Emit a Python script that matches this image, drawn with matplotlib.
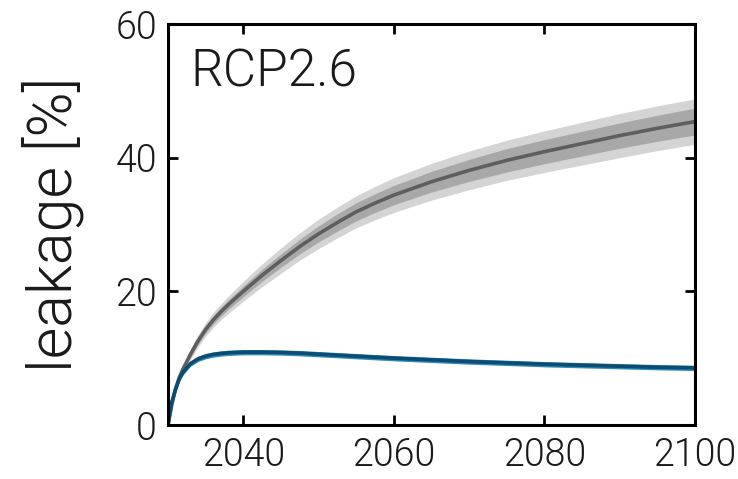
import numpy as np
import matplotlib
matplotlib.use("Agg")
import matplotlib.pyplot as plt

plt.rcParams['font.family'] = ['Roboto', 'DejaVu Sans']
plt.rcParams['font.weight'] = 300
plt.rcParams['axes.labelweight'] = 300

years = [2030, 2030.5, 2031, 2031.5, 2032, 2033, 2034, 2035, 2036, 2037, 2038, 2040,
         2042.5, 2045, 2047.5, 2050, 2052.5, 2055, 2057.5, 2060, 2065, 2070, 2075,
         2080, 2085, 2090, 2095, 2100]

# gray ensemble: median, inner band, outer band
gray_med = [0, 3.0, 5.4, 7.1, 8.4, 10.6, 12.6, 14.3, 15.7, 16.9, 18.0, 20.0,
            22.4, 24.6, 26.7, 28.6, 30.3, 31.9, 33.2, 34.4, 36.4, 38.1, 39.6,
            40.9, 42.1, 43.3, 44.4, 45.4]
gray_in_lo = [0, 2.9, 5.2, 6.85, 8.1, 10.2, 12.1, 13.75, 15.1, 16.25, 17.3, 19.2,
              21.5, 23.6, 25.6, 27.4, 29.0, 30.55, 31.8, 32.95, 34.85, 36.45, 37.85,
              39.1, 40.25, 41.4, 42.45, 43.4]
gray_in_hi = [0, 3.1, 5.6, 7.35, 8.7, 11.0, 13.1, 14.85, 16.3, 17.55, 18.7, 20.8,
              23.3, 25.6, 27.8, 29.8, 31.6, 33.25, 34.6, 35.85, 37.95, 39.75, 41.35,
              42.7, 43.95, 45.2, 46.35, 47.4]
gray_out_lo = [0, 2.8, 5.0, 6.6, 7.8, 9.85, 11.7, 13.3, 14.6, 15.7, 16.7, 18.5,
               20.7, 22.7, 24.65, 26.4, 28.0, 29.5, 30.7, 31.8, 33.65, 35.2, 36.6,
               37.8, 38.9, 40.0, 41.05, 42.0]
gray_out_hi = [0, 3.2, 5.8, 7.6, 9.0, 11.35, 13.5, 15.3, 16.8, 18.1, 19.3, 21.5,
               24.1, 26.5, 28.75, 30.8, 32.6, 34.3, 35.7, 37.0, 39.15, 41.0, 42.6,
               44.0, 45.3, 46.6, 47.75, 48.8]

# blue ensemble
blue_med = [0, 3.4, 5.3, 6.9, 7.9, 9.2, 9.9, 10.3, 10.55, 10.7, 10.8, 10.9,
            10.9, 10.85, 10.75, 10.6, 10.45, 10.3, 10.15, 10.0, 9.75, 9.5, 9.3,
            9.1, 8.95, 8.8, 8.65, 8.55]
blue_lo = [0, 3.0, 4.9, 6.5, 7.5, 8.8, 9.5, 9.9, 10.15, 10.3, 10.4, 10.5,
           10.5, 10.45, 10.35, 10.2, 10.05, 9.9, 9.75, 9.6, 9.35, 9.1, 8.9,
           8.7, 8.55, 8.4, 8.25, 8.15]
blue_hi = [0, 3.8, 5.7, 7.3, 8.3, 9.6, 10.3, 10.7, 10.95, 11.1, 11.2, 11.3,
           11.3, 11.25, 11.15, 11.0, 10.85, 10.7, 10.55, 10.4, 10.15, 9.9, 9.7,
           9.5, 9.35, 9.2, 9.05, 8.95]

fig = plt.figure(figsize=(7.38, 4.79), dpi=100)
ax = fig.add_axes([0.2276, 0.1127, 0.7141, 0.8372])

ax.fill_between(years, gray_out_lo, gray_out_hi, color="#d4d4d4", lw=0)
ax.fill_between(years, gray_in_lo, gray_in_hi, color="#a8a8a8", lw=0)
ax.plot(years, gray_med, color="#5e5e5e", lw=2.6, solid_joinstyle="round")

ax.fill_between(years, blue_lo, blue_hi, color="#2f8cb6", lw=0)
ax.plot(years, blue_med, color="#0b4b74", lw=2.6, solid_joinstyle="round")

ax.set_xlim(2030, 2100)
ax.set_ylim(0, 60)
ax.set_xticks([2040, 2060, 2080, 2100])
ax.set_yticks([0, 20, 40, 60])
ax.tick_params(direction="in", length=7, width=2, labelsize=27, top=True, right=True, pad=8,
               labelcolor="#1a1a1a")
for s in ax.spines.values():
    s.set_linewidth(2.2)

ax.set_ylabel("leakage [%]", fontsize=44, color="#1a1a1a", va="center")
ax.yaxis.set_label_coords(-0.218, 0.5)
ax.text(0.042, 0.878, "RCP2.6", transform=ax.transAxes, fontsize=37, va="center", ha="left",
        color="#1a1a1a")

fig.savefig("out.png", dpi=100)
